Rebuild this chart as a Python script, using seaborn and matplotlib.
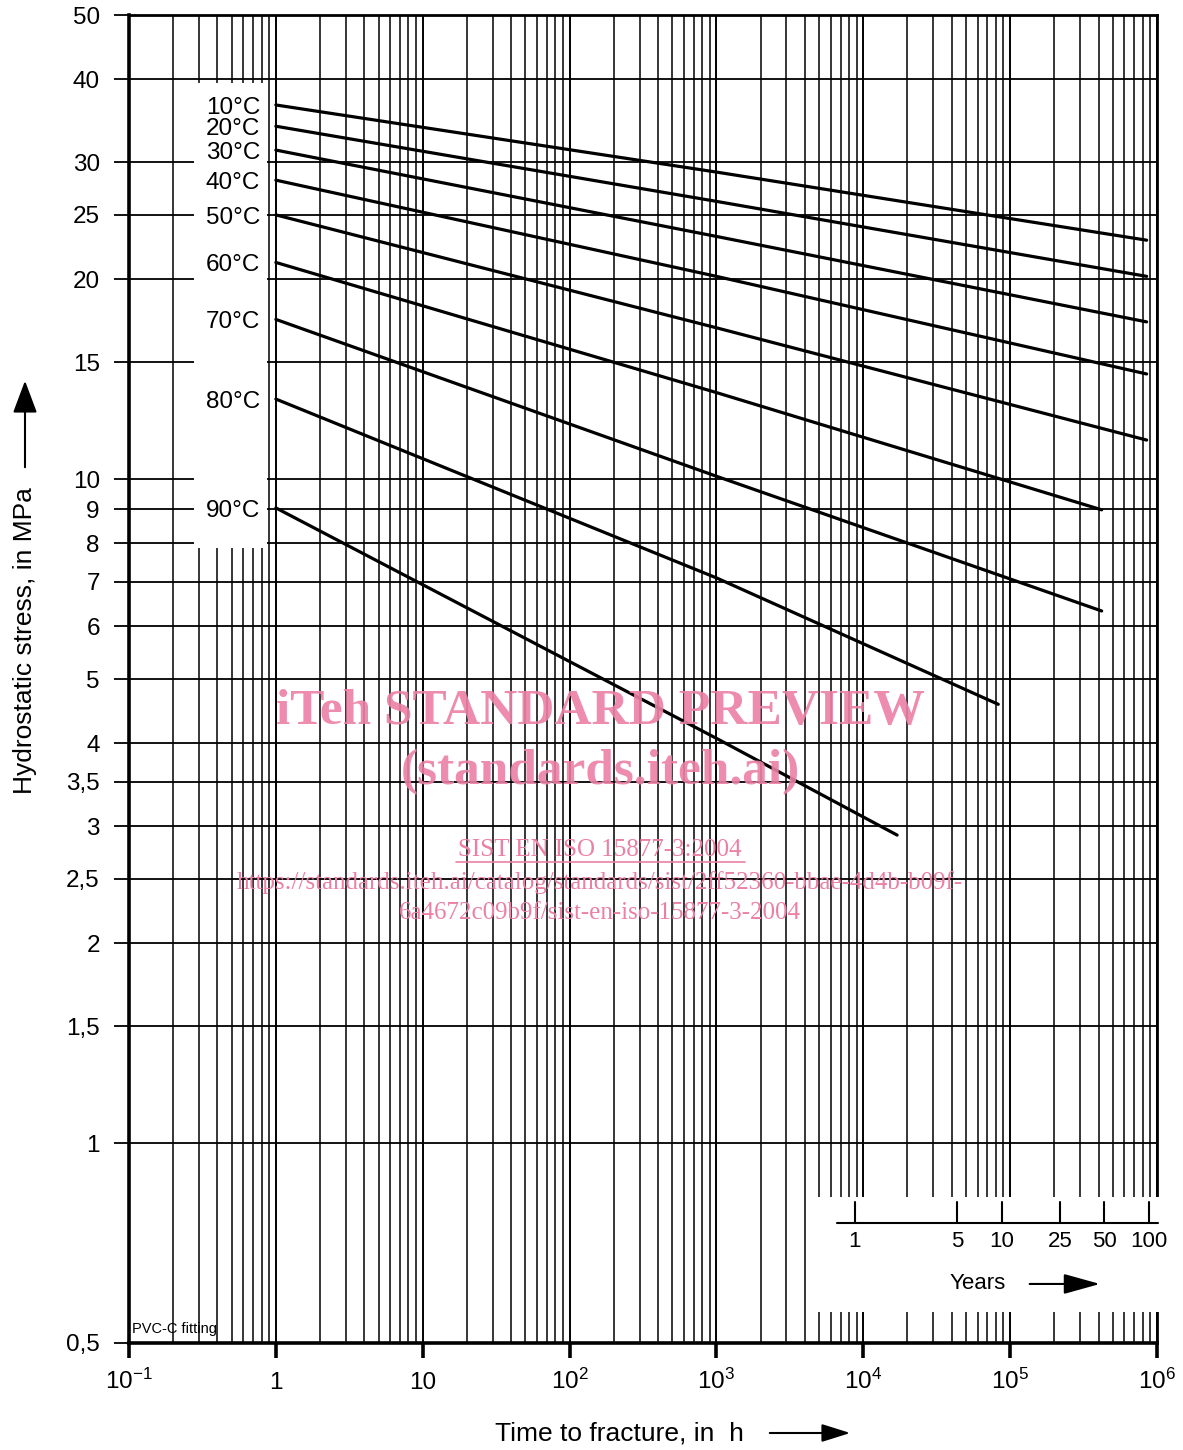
import numpy as np
import pandas as pd
import matplotlib
matplotlib.use("Agg")
import matplotlib.pyplot as plt
from matplotlib.patches import Rectangle
from matplotlib.lines import Line2D
from matplotlib.ticker import FixedLocator, NullFormatter
import seaborn as sns

sns.set_theme(style="white")
plt.rcParams['font.family'] = ['Liberation Sans', 'DejaVu Sans']
plt.rcParams['mathtext.default'] = 'regular'
plt.rcParams['text.color'] = 'black'

# reference curves: time to fracture (h) and hydrostatic stress (MPa)
temps = ["10°C", "20°C", "30°C", "40°C", "50°C", "60°C", "70°C", "80°C", "90°C"]
t_start = [1, 1, 1, 1, 1, 1, 1, 1, 1]
t_mid = [1000, 1000, 1000, 1000, 1000, 1000, 1000, 1000, 1000]
t_end = [8.5e5, 8.5e5, 8.5e5, 8.5e5, 8.5e5, 4.2e5, 4.2e5, 8.3e4, 1.7e4]
s_start = [36.6, 34.0, 31.3, 28.2, 25.0, 21.2, 17.4, 13.2, 9.05]
s_mid = [29.0, 26.2, 23.2, 20.2, 16.9, 13.5, 10.1, 7.1, 4.07]
s_end = [22.9, 20.2, 17.25, 14.4, 11.45, 8.99, 6.33, 4.58, 2.91]

# axis ticks
y_ticks = [0.5, 1, 1.5, 2, 2.5, 3, 3.5, 4, 5, 6, 7, 8, 9, 10, 15, 20, 25, 30, 40, 50]
y_labels = ["0,5", "1", "1,5", "2", "2,5", "3", "3,5", "4", "5", "6", "7", "8", "9",
            "10", "15", "20", "25", "30", "40", "50"]
x_ticks = [1e-1, 1, 10, 1e2, 1e3, 1e4, 1e5, 1e6]
x_labels = ["10$^{-1}$", "1", "10", "10$^{2}$", "10$^{3}$", "10$^{4}$", "10$^{5}$", "10$^{6}$"]
years = [1, 5, 10, 25, 50, 100]
hours_per_year = 8760

rows = []
for i, t in enumerate(temps):
    rows.append((t, t_start[i], s_start[i]))
    rows.append((t, t_mid[i], s_mid[i]))
    rows.append((t, t_end[i], s_end[i]))
df = pd.DataFrame(rows, columns=["temp", "hours", "stress"])

W, H = 1183, 1450
fig = plt.figure(figsize=(W / 100, H / 100), dpi=100)
ax = fig.add_axes([129 / W, 1 - 1343 / H, (1157 - 129) / W, (1343 - 15) / H])
ax.set_xscale("log")
ax.set_yscale("log")

sns.lineplot(data=df, x="hours", y="stress", hue="temp", units="temp", estimator=None,
             palette=["black"] * len(temps), linewidth=2.3, legend=False, ax=ax, zorder=2)
ax.set_xlabel("")
ax.set_ylabel("")

ax.set_xlim(0.1, 1e6)
ax.set_ylim(0.5, 50)

# ticks / grid
ax.set_yticks(y_ticks)
ax.set_yticklabels(y_labels)
ax.yaxis.set_minor_locator(FixedLocator([]))
ax.set_xticks(x_ticks)
ax.set_xticklabels(x_labels)
minor_x = [m * 10.0 ** e for e in range(-1, 6) for m in range(2, 10)]
ax.xaxis.set_minor_locator(FixedLocator(minor_x))
ax.xaxis.set_minor_formatter(NullFormatter())

ax.set_axisbelow(True)
ax.grid(True, which="major", axis="x", color="black", linewidth=1.4)
ax.grid(True, which="minor", axis="x", color="black", linewidth=1.1)
ax.grid(True, which="major", axis="y", color="black", linewidth=1.3)

ax.tick_params(axis="y", which="major", left=True, direction="out", length=11, width=1.3,
               pad=10, labelsize=17.5, colors="black")
ax.tick_params(axis="x", which="major", bottom=True, direction="out", length=11, width=2.6,
               pad=22, labelsize=17.5, colors="black")
ax.tick_params(axis="x", which="minor", bottom=False, length=0)
for lab in ax.get_xticklabels():
    lab.set_va("baseline")

for side in ["left", "bottom"]:
    ax.spines[side].set_linewidth(2.6)
for side in ["top", "right"]:
    ax.spines[side].set_linewidth(2.0)
for sp in ax.spines.values():
    sp.set_color("black")
    sp.set_visible(True)

# white box behind the temperature labels
ax.add_patch(Rectangle((0.275, 7.87), 0.87 - 0.275, 39.5 - 7.87, facecolor="white",
                       edgecolor="none", zorder=1))
for i, t in enumerate(temps):
    ax.text(0.78, s_start[i] * 0.99, t, ha="right", va="center", fontsize=17.5, zorder=3)

# years scale inset
ax.add_patch(Rectangle((4100, 0.5567), 1.06e6 - 4100, 0.8296 - 0.5567, facecolor="white",
                       edgecolor="none", zorder=2.7, clip_on=False))
ax.plot([6600, 1.01e6], [0.758, 0.758], color="black", lw=1.5, zorder=3, clip_on=False)
for yr in years:
    ax.plot([yr * hours_per_year] * 2, [0.758, 0.815], color="black", lw=1.5, zorder=3,
            clip_on=False)
    ax.text(yr * hours_per_year, 0.712, str(yr), ha="center", va="center", fontsize=16,
            zorder=3)
ax.text(6.05e4, 0.6136, "Years", ha="center", va="center", fontsize=16, zorder=3)
ax.annotate("", xy=(4.27e5, 0.6136), xytext=(1.3e5, 0.6136), zorder=3,
            arrowprops=dict(arrowstyle="-|>,head_length=0.9,head_width=0.25",
                            mutation_scale=25, lw=1.5, color="black"))

ax.text(0.105, 0.512, "PVC-C fitting", ha="left", va="bottom", fontsize=10.5, zorder=3)

# axis titles with arrows
fig.text(25 / W, 1 - 641 / H, "Hydrostatic stress, in MPa", rotation=90, ha="center",
         va="center", fontsize=19)
ax.annotate("", xy=(25, H - 378), xytext=(25, H - 470), xycoords="figure pixels",
            textcoords="figure pixels",
            arrowprops=dict(arrowstyle="-|>,head_length=0.8,head_width=0.3",
                            mutation_scale=25, lw=1.5, color="black"))
fig.text(619 / W, 1 - 1433 / H, "Time to fracture, in  h", ha="center", va="center",
         fontsize=19)
ax.annotate("", xy=(853, H - 1433), xytext=(767, H - 1433), xycoords="figure pixels",
            textcoords="figure pixels",
            arrowprops=dict(arrowstyle="-|>,head_length=0.7,head_width=0.22",
                            mutation_scale=25, lw=1.5, color="black"))

# watermark
pink = "#eb80a5"
serif = ["Liberation Serif", "DejaVu Serif"]
fig.text(600 / W, 1 - 712 / H, "iTeh STANDARD PREVIEW", ha="center", va="center",
         fontsize=37, fontweight="bold", color=pink, family=serif, alpha=0.9, zorder=5)
fig.text(600 / W, 1 - 772 / H, "(standards.iteh.ai)", ha="center", va="center",
         fontsize=37, fontweight="bold", color=pink, family=serif, alpha=0.9, zorder=5)
fig.text(600 / W, 1 - 850 / H, "SIST EN ISO 15877-3:2004", ha="center", va="center",
         fontsize=18, color=pink, family=serif, zorder=5)
fig.add_artist(Line2D([456 / W, 745 / W], [1 - 862 / H, 1 - 862 / H], color=pink, lw=1.2))
fig.text(600 / W, 1 - 883 / H,
         "https://standards.iteh.ai/catalog/standards/sist/2ff52360-bbae-4d4b-b09f-",
         ha="center", va="center", fontsize=18, color=pink, family=serif, zorder=5)
fig.text(600 / W, 1 - 913 / H, "6a4672c09b9f/sist-en-iso-15877-3-2004", ha="center",
         va="center", fontsize=18, color=pink, family=serif, zorder=5)

fig.savefig("out.png", dpi=100, facecolor="white")
